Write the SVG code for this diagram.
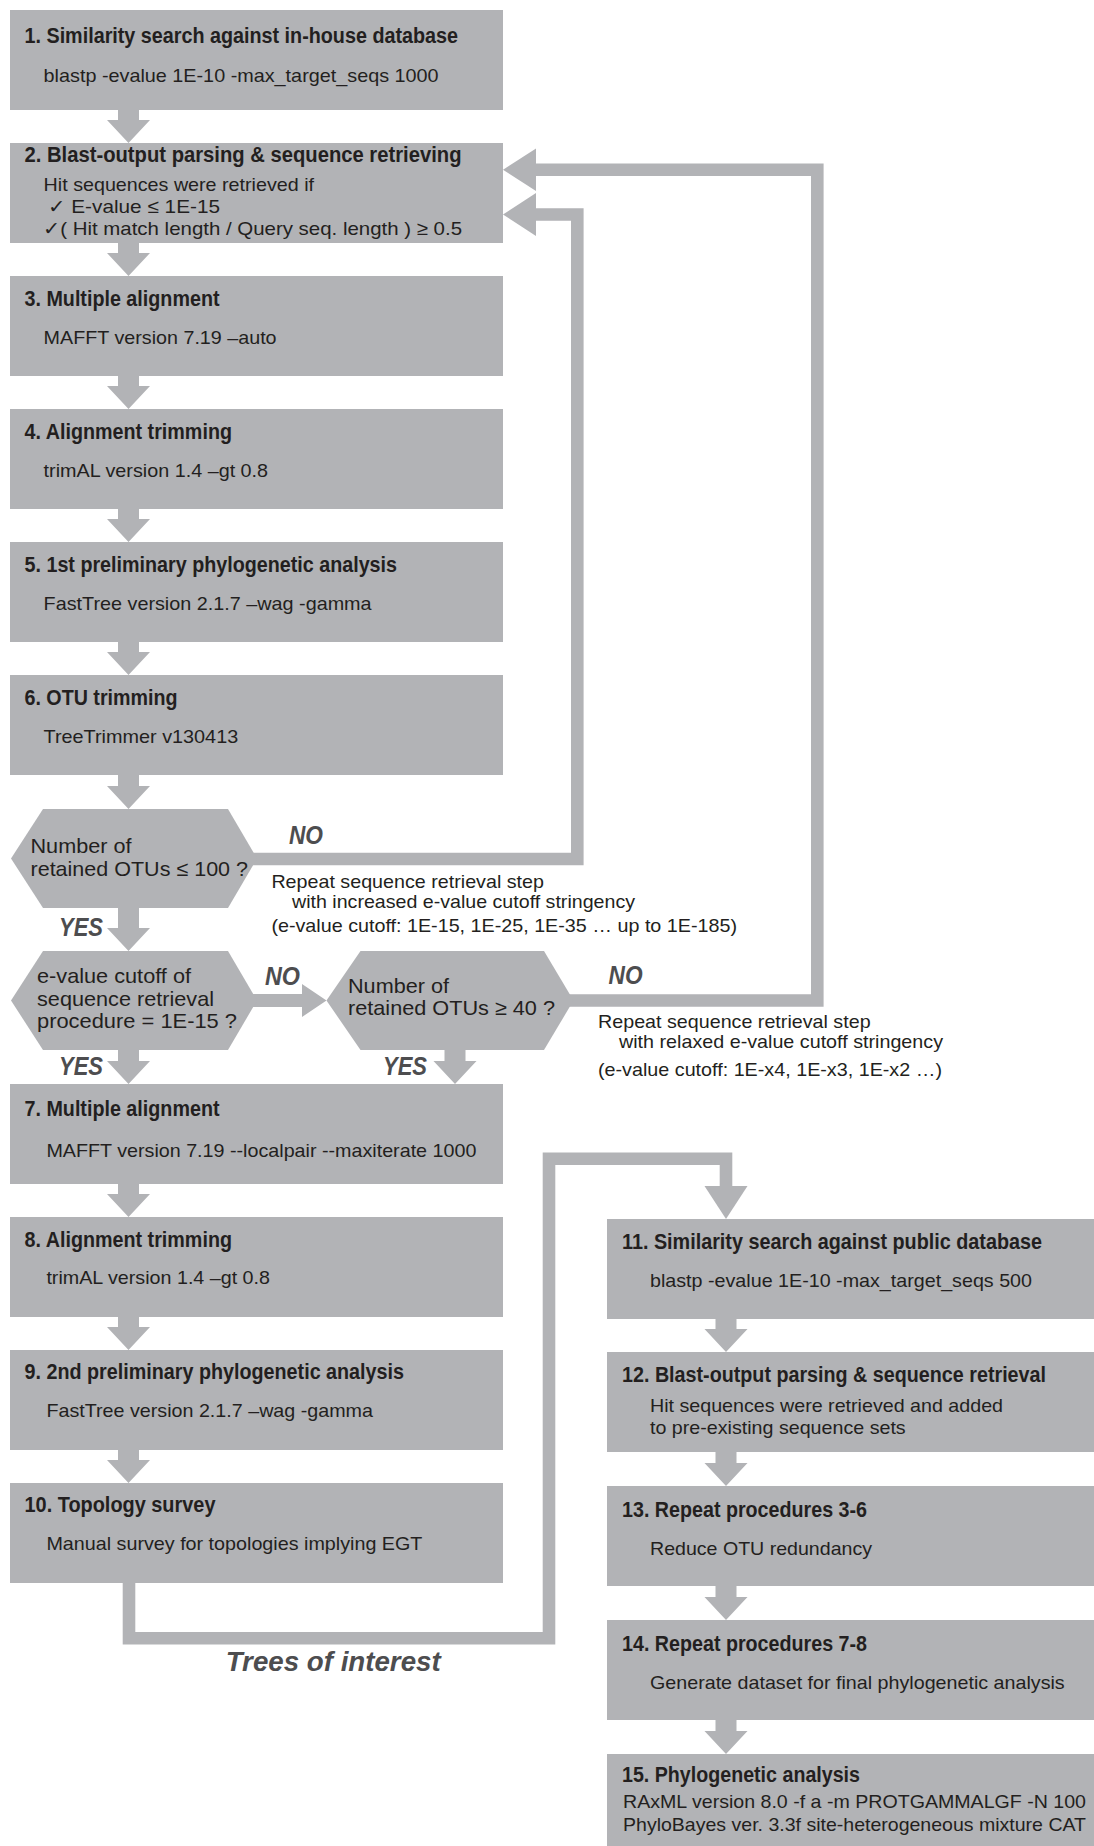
<svg xmlns="http://www.w3.org/2000/svg" width="1094" height="1846" viewBox="0 0 1094 1846">
  <style>
    .box { fill: #b2b3b6; }
    .wire { fill: none; stroke: #b2b3b6; stroke-width: 12.6; stroke-linejoin: miter; stroke-linecap: butt; }
    .arrow { fill: #b2b3b6; }
    text { font-family: "Liberation Sans", Arial, sans-serif; fill: #231f20; }
    .title { font-size: 21.5px; font-weight: bold; }
    .body { font-size: 19px; }
    .hex { font-size: 21px; }
    .tag { font-size: 26px; font-weight: bold; font-style: italic; fill: #4d4d4f; }
    .tag-big { font-size: 28px; font-weight: bold; font-style: italic; fill: #4d4d4f; }
  </style>

  <rect width="1094" height="1846" fill="#ffffff"/>

  <!-- connectors -->
  <g id="connectors">
    <!-- straight down arrows, left column -->
    <path class="arrow" d="M118,110 H139 V120 H150 L128.5,143 L107,120 H118 Z"/>
    <path class="arrow" d="M118,243 H139 V253 H150 L128.5,276 L107,253 H118 Z"/>
    <path class="arrow" d="M118,376 H139 V386 H150 L128.5,409 L107,386 H118 Z"/>
    <path class="arrow" d="M118,509 H139 V519 H150 L128.5,542 L107,519 H118 Z"/>
    <path class="arrow" d="M118,642 H139 V652 H150 L128.5,675 L107,652 H118 Z"/>
    <path class="arrow" d="M118,775 H139 V786 H150 L128.5,809 L107,786 H118 Z"/>
    <path class="arrow" d="M118,905 H139 V928 H150 L128.5,951 L107,928 H118 Z"/>
    <path class="arrow" d="M118,1047 H139 V1061 H150 L128.5,1084 L107,1061 H118 Z"/>
    <path class="arrow" d="M444.5,1047 H465.5 V1061 H476.5 L455,1084 L433.5,1061 H444.5 Z"/>
    <path class="arrow" d="M118,1184 H139 V1194 H150 L128.5,1217 L107,1194 H118 Z"/>
    <path class="arrow" d="M118,1317 H139 V1327 H150 L128.5,1350 L107,1327 H118 Z"/>
    <path class="arrow" d="M118,1450 H139 V1460 H150 L128.5,1483 L107,1460 H118 Z"/>

    <!-- NO: second check to third check -->
    <path class="arrow" d="M250,994 H302 V984 L326.5,1000.5 L302,1017 V1007 H250 Z"/>

    <!-- loop back: increased stringency -->
    <polyline class="wire" points="245,859 577.3,859 577.3,214.5 535,214.5"/>
    <path class="arrow" d="M536,193 V236 L503,214.5 Z"/>

    <!-- loop back: relaxed stringency -->
    <polyline class="wire" points="565,1000.5 817.3,1000.5 817.3,169.7 535,169.7"/>
    <path class="arrow" d="M536,148.5 V191 L503,169.7 Z"/>

    <!-- trees of interest to public database search -->
    <polyline class="wire" points="129,1582 129,1638.3 549,1638.3 549,1158.8 726,1158.8 726,1187"/>
    <path class="arrow" d="M704.5,1186 H747.5 L726,1219 Z"/>

    <!-- right column arrows -->
    <path class="arrow" d="M715.5,1319 H736.5 V1329 H747.5 L726,1352 L704.5,1329 H715.5 Z"/>
    <path class="arrow" d="M715.5,1452 H736.5 V1463 H747.5 L726,1486 L704.5,1463 H715.5 Z"/>
    <path class="arrow" d="M715.5,1586 H736.5 V1597 H747.5 L726,1620 L704.5,1597 H715.5 Z"/>
    <path class="arrow" d="M715.5,1720 H736.5 V1731 H747.5 L726,1754 L704.5,1731 H715.5 Z"/>

    <!-- branch labels -->
    <text class="tag" x="289" y="844" textLength="34" lengthAdjust="spacingAndGlyphs">NO</text>
    <text class="tag" x="59" y="935.5" textLength="44" lengthAdjust="spacingAndGlyphs">YES</text>
    <text class="tag" x="265" y="985" textLength="35" lengthAdjust="spacingAndGlyphs">NO</text>
    <text class="tag" x="608.6" y="984" textLength="34" lengthAdjust="spacingAndGlyphs">NO</text>
    <text class="tag" x="59" y="1075" textLength="44" lengthAdjust="spacingAndGlyphs">YES</text>
    <text class="tag" x="383" y="1075" textLength="44" lengthAdjust="spacingAndGlyphs">YES</text>
    <text class="tag-big" x="225.7" y="1671" textLength="215" lengthAdjust="spacingAndGlyphs">Trees of interest</text>

    <!-- loop notes -->
    <text class="body" x="271.4" y="888.3" textLength="272.6" lengthAdjust="spacingAndGlyphs">Repeat sequence retrieval step</text>
    <text class="body" x="292" y="908.3" textLength="343" lengthAdjust="spacingAndGlyphs">with increased e-value cutoff stringency</text>
    <text class="body" x="271.4" y="931.7" textLength="465.6" lengthAdjust="spacingAndGlyphs">(e-value cutoff: 1E-15, 1E-25, 1E-35 … up to 1E-185)</text>
    <text class="body" x="598" y="1028" textLength="272.6" lengthAdjust="spacingAndGlyphs">Repeat sequence retrieval step</text>
    <text class="body" x="619" y="1048" textLength="324" lengthAdjust="spacingAndGlyphs">with relaxed e-value cutoff stringency</text>
    <text class="body" x="598" y="1076" textLength="344" lengthAdjust="spacingAndGlyphs">(e-value cutoff: 1E-x4, 1E-x3, 1E-x2 …)</text>
  </g>

  <!-- left column steps -->
  <g id="step1">
    <rect class="box" x="10" y="10" width="493" height="100"/>
    <text class="title" x="24.5" y="42.5" textLength="433.5" lengthAdjust="spacingAndGlyphs">1. Similarity search against in-house database</text>
    <text class="body" x="43.6" y="82" textLength="395" lengthAdjust="spacingAndGlyphs">blastp -evalue 1E-10 -max_target_seqs 1000</text>
  </g>
  <g id="step2">
    <rect class="box" x="10" y="143" width="493" height="100"/>
    <text class="title" x="24.5" y="162" textLength="437" lengthAdjust="spacingAndGlyphs">2. Blast-output parsing &amp; sequence retrieving</text>
    <text class="body" x="43.6" y="191" textLength="270.4" lengthAdjust="spacingAndGlyphs">Hit sequences were retrieved if</text>
    <text class="body" x="48" y="213" textLength="172" lengthAdjust="spacingAndGlyphs">✓ E-value ≤ 1E-15</text>
    <text class="body" x="43" y="235" textLength="419" lengthAdjust="spacingAndGlyphs">✓( Hit match length / Query seq. length ) ≥ 0.5</text>
  </g>
  <g id="step3">
    <rect class="box" x="10" y="276" width="493" height="100"/>
    <text class="title" x="24.5" y="306" textLength="195" lengthAdjust="spacingAndGlyphs">3. Multiple alignment</text>
    <text class="body" x="43.6" y="344" textLength="233" lengthAdjust="spacingAndGlyphs">MAFFT version 7.19 –auto</text>
  </g>
  <g id="step4">
    <rect class="box" x="10" y="409" width="493" height="100"/>
    <text class="title" x="24.5" y="439" textLength="207.5" lengthAdjust="spacingAndGlyphs">4. Alignment trimming</text>
    <text class="body" x="43.6" y="477" textLength="224.5" lengthAdjust="spacingAndGlyphs">trimAL version 1.4 –gt 0.8</text>
  </g>
  <g id="step5">
    <rect class="box" x="10" y="542" width="493" height="100"/>
    <text class="title" x="24.5" y="572" textLength="372.5" lengthAdjust="spacingAndGlyphs">5. 1st preliminary phylogenetic analysis</text>
    <text class="body" x="43.6" y="610" textLength="328" lengthAdjust="spacingAndGlyphs">FastTree version 2.1.7 –wag -gamma</text>
  </g>
  <g id="step6">
    <rect class="box" x="10" y="675" width="493" height="100"/>
    <text class="title" x="24.5" y="705" textLength="153" lengthAdjust="spacingAndGlyphs">6. OTU trimming</text>
    <text class="body" x="43.6" y="743" textLength="194.6" lengthAdjust="spacingAndGlyphs">TreeTrimmer v130413</text>
  </g>

  <!-- decisions -->
  <g id="check-max-otus">
    <polygon class="box" points="11,858.5 43,809 228,809 257,858.5 228,908 43,908"/>
    <text class="hex" x="30.5" y="852.7" textLength="101" lengthAdjust="spacingAndGlyphs">Number of</text>
    <text class="hex" x="30.5" y="876" textLength="217.5" lengthAdjust="spacingAndGlyphs">retained OTUs ≤ 100 ?</text>
  </g>
  <g id="check-cutoff">
    <polygon class="box" points="11,1000.5 43,951 228,951 257,1000.5 228,1050 43,1050"/>
    <text class="hex" x="37" y="983" textLength="154" lengthAdjust="spacingAndGlyphs">e-value cutoff of</text>
    <text class="hex" x="37" y="1005.5" textLength="177" lengthAdjust="spacingAndGlyphs">sequence retrieval</text>
    <text class="hex" x="37" y="1028" textLength="200" lengthAdjust="spacingAndGlyphs">procedure = 1E-15 ?</text>
  </g>
  <g id="check-min-otus">
    <polygon class="box" points="326.5,1000.5 360.5,951 544,951 573.5,1000.5 544,1050 360.5,1050"/>
    <text class="hex" x="348" y="993" textLength="101" lengthAdjust="spacingAndGlyphs">Number of</text>
    <text class="hex" x="348" y="1015" textLength="207" lengthAdjust="spacingAndGlyphs">retained OTUs ≥ 40 ?</text>
  </g>

  <g id="step7">
    <rect class="box" x="10" y="1084" width="493" height="100"/>
    <text class="title" x="24.5" y="1116" textLength="195" lengthAdjust="spacingAndGlyphs">7. Multiple alignment</text>
    <text class="body" x="46.4" y="1157" textLength="430" lengthAdjust="spacingAndGlyphs">MAFFT version 7.19 --localpair --maxiterate 1000</text>
  </g>
  <g id="step8">
    <rect class="box" x="10" y="1217" width="493" height="100"/>
    <text class="title" x="24.5" y="1247" textLength="207.5" lengthAdjust="spacingAndGlyphs">8. Alignment trimming</text>
    <text class="body" x="46.4" y="1284" textLength="223.6" lengthAdjust="spacingAndGlyphs">trimAL version 1.4 –gt 0.8</text>
  </g>
  <g id="step9">
    <rect class="box" x="10" y="1350" width="493" height="100"/>
    <text class="title" x="24.5" y="1379" textLength="379.5" lengthAdjust="spacingAndGlyphs">9. 2nd preliminary phylogenetic analysis</text>
    <text class="body" x="46.4" y="1417" textLength="326.6" lengthAdjust="spacingAndGlyphs">FastTree version 2.1.7 –wag -gamma</text>
  </g>
  <g id="step10">
    <rect class="box" x="10" y="1483" width="493" height="100"/>
    <text class="title" x="24.5" y="1512" textLength="191" lengthAdjust="spacingAndGlyphs">10. Topology survey</text>
    <text class="body" x="46.4" y="1550" textLength="376" lengthAdjust="spacingAndGlyphs">Manual survey for topologies implying EGT</text>
  </g>

  <!-- right column steps -->
  <g id="step11">
    <rect class="box" x="607" y="1219" width="487" height="100"/>
    <text class="title" x="622" y="1249" textLength="420" lengthAdjust="spacingAndGlyphs">11. Similarity search against public database</text>
    <text class="body" x="650" y="1287" textLength="382" lengthAdjust="spacingAndGlyphs">blastp -evalue 1E-10 -max_target_seqs 500</text>
  </g>
  <g id="step12">
    <rect class="box" x="607" y="1352" width="487" height="100"/>
    <text class="title" x="622" y="1382" textLength="424" lengthAdjust="spacingAndGlyphs">12. Blast-output parsing &amp; sequence retrieval</text>
    <text class="body" x="650" y="1411.7" textLength="353" lengthAdjust="spacingAndGlyphs">Hit sequences were retrieved and added</text>
    <text class="body" x="650" y="1434" textLength="255.7" lengthAdjust="spacingAndGlyphs">to pre-existing sequence sets</text>
  </g>
  <g id="step13">
    <rect class="box" x="607" y="1486" width="487" height="100"/>
    <text class="title" x="622" y="1516.7" textLength="245" lengthAdjust="spacingAndGlyphs">13. Repeat procedures 3-6</text>
    <text class="body" x="650" y="1555" textLength="222" lengthAdjust="spacingAndGlyphs">Reduce OTU redundancy</text>
  </g>
  <g id="step14">
    <rect class="box" x="607" y="1620" width="487" height="100"/>
    <text class="title" x="622" y="1651" textLength="245" lengthAdjust="spacingAndGlyphs">14. Repeat procedures 7-8</text>
    <text class="body" x="650" y="1689" textLength="414.7" lengthAdjust="spacingAndGlyphs">Generate dataset for final phylogenetic analysis</text>
  </g>
  <g id="step15">
    <rect class="box" x="607" y="1754" width="487" height="92"/>
    <text class="title" x="622" y="1782" textLength="238" lengthAdjust="spacingAndGlyphs">15. Phylogenetic analysis</text>
    <text class="body" x="623" y="1808.3" textLength="463" lengthAdjust="spacingAndGlyphs">RAxML version 8.0 -f a -m PROTGAMMALGF -N 100</text>
    <text class="body" x="623" y="1831" textLength="463" lengthAdjust="spacingAndGlyphs">PhyloBayes ver. 3.3f site-heterogeneous mixture CAT</text>
  </g>
</svg>
